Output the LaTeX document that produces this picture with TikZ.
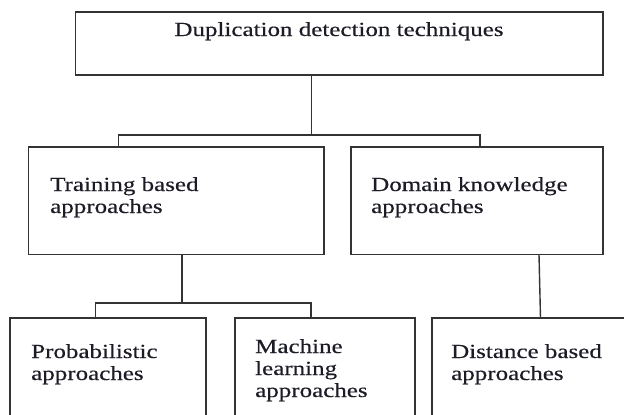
\documentclass[tikz,border=0pt]{standalone}
\usepackage{fontspec}
\setmainfont{Liberation Serif}[FakeStretch=1.25, FakeBold=0.4]
\begin{document}
\definecolor{linecol}{HTML}{333333}
\definecolor{txtcol}{HTML}{1C1C26}
\begin{tikzpicture}[x=1pt,y=-1pt,
  box/.style={draw=linecol, line width=1.4pt, rectangle, anchor=north west,
              inner sep=0pt, outer sep=0pt},
  lbl/.style={anchor=base west, align=left, inner sep=0pt, text=txtcol,
              font=\fontsize{20}{22}\selectfont},
  link/.style={draw=linecol, line width=1.4pt}]
  \useasboundingbox (0,0) rectangle (624,415);
  \clip (0,0) rectangle (624,415);

  % boxes
  \node[box, minimum width=527.5pt, minimum height=63pt]  (root)   at (75.5,12)  {};
  \node[box, minimum width=295.5pt, minimum height=107.5pt] (train) at (28.5,147) {};
  \node[box, minimum width=252pt,   minimum height=107.5pt] (domain) at (351,147) {};
  \node[box, minimum width=196pt,   minimum height=120pt] (prob)   at (10,318)  {};
  \node[box, minimum width=180pt,   minimum height=120pt] (ml)     at (235,318) {};
  \node[box, minimum width=220pt,   minimum height=120pt] (dist)   at (432,318) {};

  % labels (the base anchor sits on the last line)
  \node[lbl, anchor=base] (rootlbl) at (339,36) {Duplication detection techniques};
  \node[lbl] (trainlbl)  at (50,213)  {Training based\\approaches};
  \node[lbl] (domainlbl) at (371,213) {Domain knowledge\\approaches};
  \node[lbl] (problbl)   at (31,380)  {Probabilistic\\approaches};
  \node[lbl] (mllbl)     at (255,397) {Machine\\learning\\approaches};
  \node[lbl] (distlbl)   at (451,380) {Distance based\\approaches};

  % junction points of the tree
  \coordinate (j1) at (311.6,135);
  \coordinate (j2) at (182,303);
  \coordinate (d1) at (539,254.5);
  \coordinate (d2) at (540.5,318);

  % connectors
  \draw[link] (root.south -| j1) -- (j1);
  \draw[link] (train.north -| 118.6,0) |- (j1) -| (domain.north -| 480,0);
  \draw[link] (train.south -| j2) -- (j2);
  \draw[link] (prob.north -| 95.5,0) |- (j2) -| (ml.north -| 311,0);
  \draw[link] (domain.south -| d1) -- (dist.north -| d2);
\end{tikzpicture}
\end{document}
